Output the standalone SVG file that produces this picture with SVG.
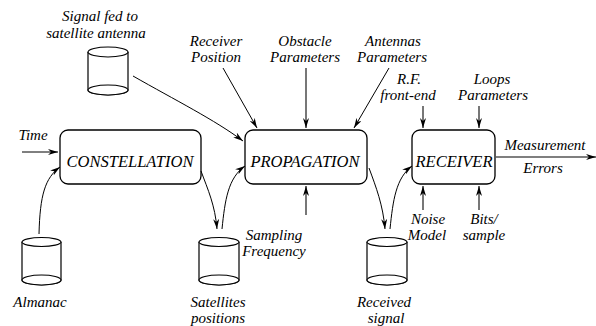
<svg xmlns="http://www.w3.org/2000/svg" width="596" height="326" viewBox="0 0 596 326" font-family="'Liberation Serif', 'DejaVu Serif', serif">
<style>
text{font-family:'Liberation Serif','DejaVu Serif',serif;font-style:italic;font-size:15px;fill:#000;text-anchor:middle}
.big{font-size:16.5px}
.box{fill:#fff;stroke:#000;stroke-width:1.3}
.cyl{fill:#fff;stroke:#000;stroke-width:1.2}
.c{fill:none;stroke:#000;stroke-width:1}
.g{fill:none;stroke:#555;stroke-width:1.6}
</style>
<defs>
<marker id="ah" viewBox="0 0 10 6" refX="10" refY="3" markerWidth="10" markerHeight="6" markerUnits="userSpaceOnUse" orient="auto">
<path d="M0,0 L10,3 L0,6 L3,3 z" fill="#000"/>
</marker>
</defs>
<g id="constellation"><rect class="box" x="60" y="130" width="141" height="54" rx="8"/><text class="big" x="130" y="167">CONSTELLATION</text></g>
<g id="propagation"><rect class="box" x="245" y="130" width="122" height="54" rx="8"/><text class="big" x="305" y="167">PROPAGATION</text></g>
<g id="receiver"><rect class="box" x="412" y="130" width="83" height="54" rx="8"/><text class="big" x="454" y="167">RECEIVER</text></g>
<g id="signal-fed"><path class="cyl" d="M88,52 V90 A20,5 0 0 0 128,90 V52"/><ellipse class="cyl" cx="108" cy="52" rx="20" ry="5"/><ellipse class="cyl" cx="108" cy="90" rx="20" ry="5" fill="none"/><text x="100" y="21">Signal fed to</text><text x="96" y="38">satellite antenna</text></g>
<g id="almanac"><path class="cyl" d="M22,242 V280 A19.5,5 0 0 0 61,280 V242"/><ellipse class="cyl" cx="41.5" cy="242" rx="19.5" ry="4.5"/><ellipse class="cyl" cx="41.5" cy="280" rx="19.5" ry="5"/><text x="40" y="307">Almanac</text></g>
<g id="satellites"><path class="cyl" d="M199,242 V280 A20,5 0 0 0 239,280 V242"/><ellipse class="cyl" cx="219" cy="242" rx="20" ry="4.5"/><ellipse class="cyl" cx="219" cy="280" rx="20" ry="5"/><text x="218" y="307">Satellites</text><text x="218" y="323">positions</text></g>
<g id="received"><path class="cyl" d="M367,242 V280 A20,5 0 0 0 407,280 V242"/><ellipse class="cyl" cx="387" cy="242" rx="20" ry="4.5"/><ellipse class="cyl" cx="387" cy="280" rx="20" ry="5"/><text x="384" y="307">Received</text><text x="386" y="323">signal</text></g>
<g id="labels">
<text x="33" y="140">Time</text>
<text x="216" y="46">Receiver</text><text x="216" y="62">Position</text>
<text x="305" y="46">Obstacle</text><text x="305" y="62">Parameters</text>
<text x="393" y="46">Antennas</text><text x="392" y="62">Parameters</text>
<text x="409" y="84">R.F.</text><text x="408" y="100">front-end</text>
<text x="492" y="84">Loops</text><text x="493" y="100">Parameters</text>
<text x="545" y="150">Measurement</text><text x="543" y="173">Errors</text>
<text x="274" y="240">Sampling</text><text x="274" y="256">Frequency</text>
<text x="428" y="224">Noise</text><text x="427" y="240">Model</text>
<text x="484" y="224">Bits/</text><text x="484" y="240">sample</text>
</g>
<g id="connectors">
<path class="c" d="M133,76 C175,100 215,120 243,141" marker-end="url(#ah)"/>
<path class="c" d="M223,68 L257,128" marker-end="url(#ah)"/>
<path class="g" d="M306,68 V128" marker-end="url(#ah)"/>
<path class="c" d="M389,68 L354,128" marker-end="url(#ah)"/>
<path class="g" d="M423,106 V128" marker-end="url(#ah)"/>
<path class="g" d="M479,106 V128" marker-end="url(#ah)"/>
<path class="c" d="M22,152 H58" marker-end="url(#ah)"/>
<path class="g" d="M495,157 H596" marker-end="url(#ah)"/>
<path class="c" d="M39,234 C40,195 45,178 60,167" marker-end="url(#ah)"/>
<path class="c" d="M201,171 C208,190 215,205 217,229" marker-end="url(#ah)"/>
<path class="c" d="M222,229 C225,200 228,178 245,166" marker-end="url(#ah)"/>
<path class="c" d="M369,168 C376,187 383,205 385,229" marker-end="url(#ah)"/>
<path class="c" d="M390,229 C393,200 396,178 412,166" marker-end="url(#ah)"/>
<path class="g" d="M306,215 V186" marker-end="url(#ah)"/>
<path class="g" d="M423,210 V186" marker-end="url(#ah)"/>
<path class="g" d="M479,210 V186" marker-end="url(#ah)"/>
</g>
</svg>
